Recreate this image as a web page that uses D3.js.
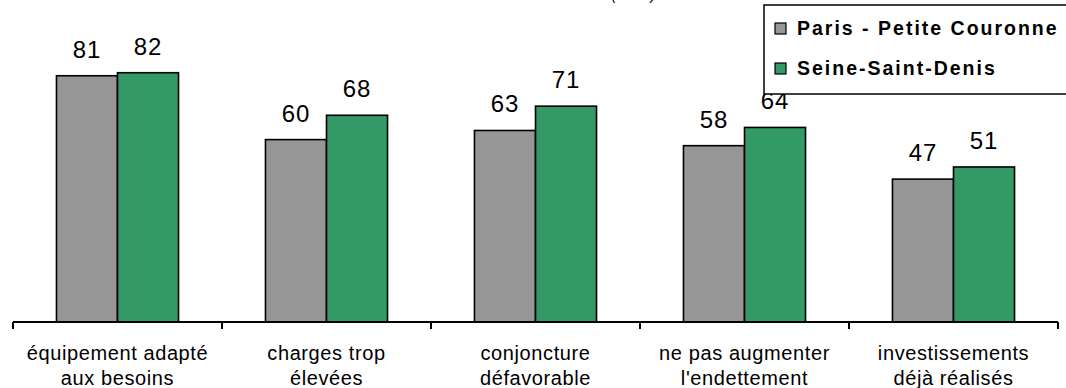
<!DOCTYPE html>
<html>
<head>
<meta charset="utf-8">
<script src="https://cdn.jsdelivr.net/npm/d3@7"></script>
<style>
  body { margin: 0; background: #fff; }
  svg { display: block; font-family: "Liberation Sans", Arial, sans-serif; }
</style>
</head>
<body>
<svg id="chart" width="1066" height="388"></svg>
<script>
// values (% of firms)
const categories = [
    ["équipement adapté", "aux besoins"],
    ["charges trop", "élevées"],
    ["conjoncture", "défavorable"],
    ["ne pas augmenter", "l'endettement"],
    ["investissements", "déjà réalisés"]
];
const seriesNames = ["Paris - Petite Couronne", "Seine-Saint-Denis"];
const parisValues = [81, 60, 63, 58, 47];
const ssdValues = [82, 68, 71, 64, 51];
const colors = ["#969696", "#339966"];
const title = "Motifs de non-investissement selon la zone (en %)";

const W = 1066, H = 388;
const margin = {left: 13, right: 8, top: 18, bottom: 66};
const svg = d3.select("#chart");

const x = d3.scaleBand()
    .domain(d3.range(categories.length))
    .range([margin.left, W - margin.right]);
const pairW = x.bandwidth() * 0.584;
const x1 = d3.scaleBand()
    .domain([0, 1])
    .range([(x.bandwidth() - pairW) / 2, (x.bandwidth() + pairW) / 2]);
const y = d3.scaleLinear().domain([0, 100]).range([H - margin.bottom, margin.top]);

// title, mostly cut off at the top of the picture
svg.append("text")
    .attr("x", 488).attr("y", 0)
    .attr("text-anchor", "middle")
    .attr("fill", "#000")
    .style("font-style", "italic")
    .style("font-size", "15px")
    .text(title);

const rows = categories.map((c, i) => [parisValues[i], ssdValues[i]]);

const groups = svg.append("g").selectAll("g")
    .data(rows)
    .join("g")
    .attr("transform", (d, i) => `translate(${x(i)},0)`);

groups.selectAll("rect")
    .data(d => d)
    .join("rect")
    .attr("x", (d, j) => x1(j))
    .attr("width", x1.bandwidth())
    .attr("y", d => y(d))
    .attr("height", d => y(0) - y(d))
    .attr("fill", (d, j) => colors[j])
    .attr("stroke", "#000")
    .attr("stroke-width", 1.6);

groups.selectAll("text.val")
    .data(d => d)
    .join("text")
    .attr("class", "val")
    .attr("x", (d, j) => x1(j) + x1.bandwidth() / 2)
    .attr("y", d => y(d) - 18)
    .attr("text-anchor", "middle")
    .style("font-size", "24px")
    .style("letter-spacing", "1px")
    .text(d => d);

// category axis: line with ticks at band boundaries
const axis = svg.append("g");
axis.append("line")
    .attr("x1", x.range()[0]).attr("x2", x.range()[1])
    .attr("y1", y(0)).attr("y2", y(0))
    .attr("stroke", "#000").attr("stroke-width", 2);
const edges = d3.range(categories.length + 1).map(i => i < categories.length ? x(i) : x.range()[1]);
axis.selectAll("line.tick")
    .data(edges)
    .join("line")
    .attr("class", "tick")
    .attr("x1", d => d).attr("x2", d => d)
    .attr("y1", y(0)).attr("y2", y(0) + 7)
    .attr("stroke", "#000").attr("stroke-width", 2);

const labels = axis.selectAll("text")
    .data(categories)
    .join("text")
    .attr("x", (d, i) => x(i) + x.bandwidth() / 2)
    .attr("y", y(0) + 38)
    .attr("text-anchor", "middle")
    .style("font-size", "20px")
    .style("letter-spacing", "0.6px");
labels.selectAll("tspan")
    .data(d => d)
    .join("tspan")
    .attr("x", function () { return this.parentNode.getAttribute("x"); })
    .attr("dy", (d, k) => k === 0 ? 0 : 25)
    .text(d => d);

// legend
const legend = svg.append("g").attr("transform", "translate(764,5)");
legend.append("rect")
    .attr("width", 320).attr("height", 89)
    .attr("fill", "#fff").attr("stroke", "#000").attr("stroke-width", 1.5);
const items = legend.selectAll("g")
    .data(seriesNames)
    .join("g")
    .attr("transform", (d, i) => `translate(11,${18 + i * 40})`);
items.append("rect")
    .attr("width", 11).attr("height", 11)
    .attr("fill", (d, i) => colors[i])
    .attr("stroke", "#000").attr("stroke-width", 1.2);
items.append("text")
    .attr("x", 22).attr("y", 12)
    .style("font-size", "19.5px")
    .style("font-weight", "bold")
    .style("letter-spacing", "2px")
    .text(d => d);
</script>
</body>
</html>
